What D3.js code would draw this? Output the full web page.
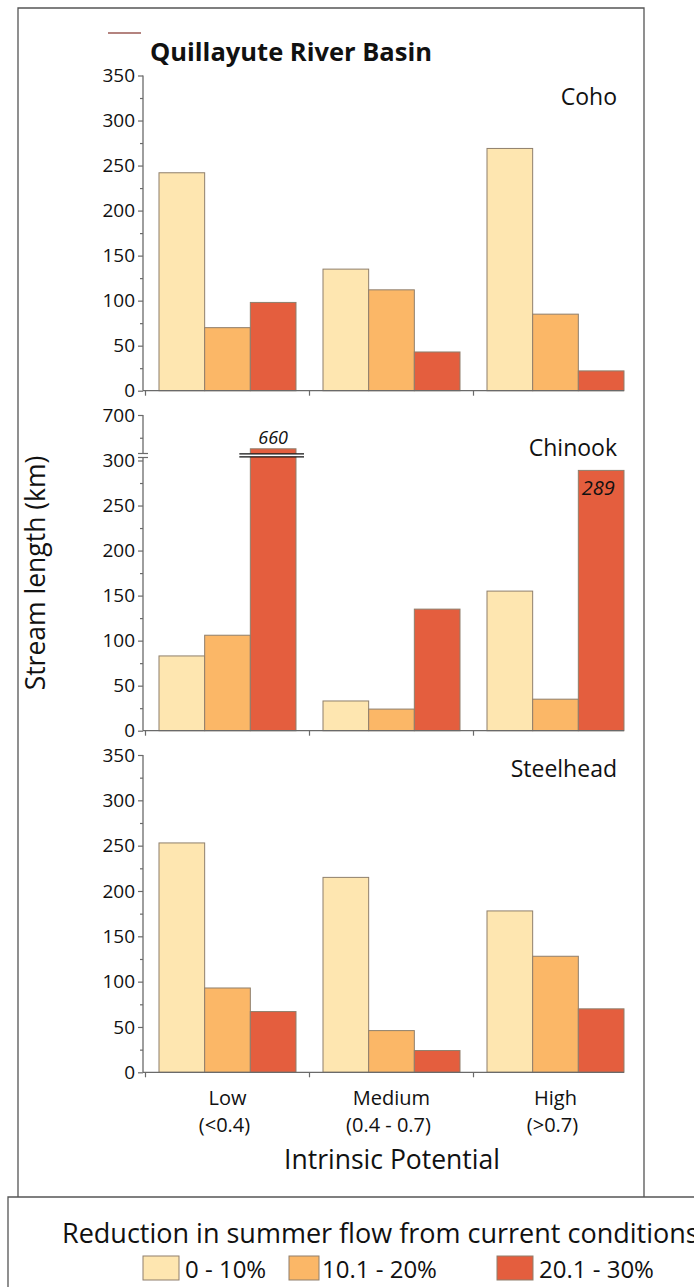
<!DOCTYPE html>
<html><head><meta charset="utf-8">
<script src="https://cdn.jsdelivr.net/npm/d3@7"></script>
<style>
body{margin:0;background:#fff}
svg{display:block}
text{font-family:"Open Sans",sans-serif;fill:#111}
</style>
</head><body>
<svg id="chart" width="694" height="1287"></svg>
<script>
// ---------- data ----------
const groups = ["Low", "Medium", "High"];
const groupSub = ["(<0.4)", "(0.4 -  0.7)", "(>0.7)"];
const series = ["0 - 10%", "10.1 - 20%", "20.1 - 30%"];
const colors = ["#FEE6B0", "#FBB767", "#E45E3E"];
const cohoValues = [[242, 70, 98], [135, 112, 43], [269, 85, 22]];
const chinookValues = [[83, 106, 660], [33, 24, 135], [155, 35, 289]];
const steelheadValues = [[253, 93, 67], [215, 46, 24], [178, 128, 70]];
const yTicks350 = [0, 50, 100, 150, 200, 250, 300, 350];
const yMinor350 = [25, 75, 125, 175, 225, 275, 325];
const chinookLowerTicks = [0, 50, 100, 150, 200, 250, 300];
const chinookLowerMinor = [25, 75, 125, 175, 225, 275];
const chinookUpperTicks = [700];
const chinookUpperMinor = [500];
const chinookBreakCap = 313;      // displayed height of the broken bar
const chinookLabels = [{g: 0, s: 2, text: "660", where: "above"}, {g: 2, s: 2, text: "289", where: "inside"}];

const svg = d3.select("#chart");
const axisX = 143;
const axisColor = "#6a6a6a";
const barStroke = "#8f7f6c";

// frame
svg.append("path").attr("d", "M18,1197 V8 H644 V1197").attr("fill", "none").attr("stroke", "#555").attr("stroke-width", 1.3);
svg.append("line").attr("x1", 108).attr("x2", 141).attr("y1", 33).attr("y2", 33).attr("stroke", "#9b5a55").attr("stroke-width", 1.4);
svg.append("text").attr("x", 150).attr("y", 61).attr("font-size", 25.5).attr("font-weight", 700).text("Quillayute River Basin");

// x scales
const x0 = d3.scaleBand().domain(groups).range([145.5, 637.5]).paddingInner(0.1646).paddingOuter(0.0823);
const x1 = d3.scaleBand().domain(series).range([0, x0.bandwidth()]);
const step = x0.step();
const boundaryTicks = groups.map(g => x0(g) - step * x0.paddingInner() / 2);
const axisEnd = x0(groups[groups.length - 1]) + x0.bandwidth();

function styleAxis(g) {
  g.selectAll("path").remove();
  g.selectAll("line").attr("stroke", axisColor).attr("stroke-width", 1.2);
  g.selectAll("text").attr("font-size", 19).attr("fill", "#1a1a1a").attr("font-family", '"Open Sans",sans-serif');
}

function drawPanel(values, name, y, yMajor, yMinor, nameY, cap) {
  const g = svg.append("g");
  const zeroY = y(0);
  groups.forEach((grp, gi) => {
    series.forEach((s, si) => {
      const v = cap ? Math.min(values[gi][si], cap) : values[gi][si];
      g.append("rect")
        .attr("x", x0(grp) + x1(s)).attr("width", x1.bandwidth())
        .attr("y", y(v)).attr("height", zeroY - y(v))
        .attr("fill", colors[si]).attr("stroke", barStroke).attr("stroke-width", 1);
    });
  });
  const ax = g.append("g").attr("transform", `translate(${axisX},0)`);
  ax.append("g").call(d3.axisLeft(y).tickValues(yMajor).tickSize(5).tickPadding(3)).call(styleAxis);
  ax.append("g").call(d3.axisLeft(y).tickValues(yMinor).tickSize(3).tickFormat("")).call(styleAxis);
  g.append("line").attr("x1", axisX).attr("x2", axisEnd).attr("y1", zeroY).attr("y2", zeroY).attr("stroke", axisColor).attr("stroke-width", 1.3);
  boundaryTicks.forEach(t => g.append("line").attr("x1", t).attr("x2", t).attr("y1", zeroY).attr("y2", zeroY + 5).attr("stroke", axisColor).attr("stroke-width", 1.2));
  g.append("text").attr("x", 617).attr("y", nameY).attr("text-anchor", "end").attr("font-size", 23).text(name);
  return g;
}

// Coho
const yCoho = d3.scaleLinear().domain([0, 350]).range([390.7, 75.5]);
const pc = drawPanel(cohoValues, "Coho", yCoho, yTicks350, yMinor350, 105);
pc.append("line").attr("x1", axisX).attr("x2", axisX).attr("y1", yCoho(0)).attr("y2", yCoho(350)).attr("stroke", axisColor).attr("stroke-width", 1.3);

// Chinook (broken axis)
const yChL = d3.scaleLinear().domain([0, 300]).range([730.7, 460.5]);
const yChU = d3.scaleLinear().domain([300, 700]).range([460.5, 415]);
const pch = drawPanel(chinookValues, "Chinook", yChL, chinookLowerTicks, chinookLowerMinor, 456, chinookBreakCap);
const axU = pch.append("g").attr("transform", `translate(${axisX},0)`);
axU.append("g").call(d3.axisLeft(yChU).tickValues(chinookUpperTicks).tickSize(5).tickPadding(3)).call(styleAxis);
axU.append("g").call(d3.axisLeft(yChU).tickValues(chinookUpperMinor).tickSize(3).tickFormat("")).call(styleAxis);
pch.append("line").attr("x1", axisX).attr("x2", axisX).attr("y1", yChL(0)).attr("y2", yChL(300) - 3).attr("stroke", axisColor).attr("stroke-width", 1.3);
pch.append("line").attr("x1", axisX).attr("x2", axisX).attr("y1", yChL(300) - 7).attr("y2", yChU(700)).attr("stroke", axisColor).attr("stroke-width", 1.3);
[yChL(300) - 7, yChL(300) - 3].forEach(yy => pch.append("line").attr("x1", axisX - 5).attr("x2", axisX + 5).attr("y1", yy).attr("y2", yy).attr("stroke", axisColor).attr("stroke-width", 1.2));
chinookLabels.forEach(l => {
  const bx = x0(groups[l.g]) + x1(series[l.s]);
  const bw = x1.bandwidth();
  if (l.where === "above") {
    const by = yChL(chinookBreakCap);
    pch.append("rect").attr("x", bx - 11).attr("y", by + 5).attr("width", bw + 22).attr("height", 3).attr("fill", "#fff");
    [by + 5, by + 8].forEach(yy => pch.append("line").attr("x1", bx - 11).attr("x2", bx + bw + 8).attr("y1", yy).attr("y2", yy).attr("stroke", "#111").attr("stroke-width", 1.3));
    pch.append("text").attr("x", bx + bw / 2).attr("y", by - 5).attr("text-anchor", "middle").attr("font-size", 18).attr("font-style", "italic").text(l.text);
  } else {
    const v = chinookValues[l.g][l.s];
    pch.append("text").attr("x", bx + bw / 2 - 3).attr("y", yChL(v) + 25).attr("text-anchor", "middle").attr("font-size", 20).attr("font-style", "italic").attr("fill", "#2a0d05").text(l.text);
  }
});

// Steelhead
const ySt = d3.scaleLinear().domain([0, 350]).range([1072.3, 755]);
const ps = drawPanel(steelheadValues, "Steelhead", ySt, yTicks350, yMinor350, 777);
ps.append("line").attr("x1", axisX).attr("x2", axisX).attr("y1", ySt(0)).attr("y2", ySt(350)).attr("stroke", axisColor).attr("stroke-width", 1.3);

// y title
svg.append("text").attr("transform", "translate(45,573) rotate(-90)").attr("text-anchor", "middle").attr("font-size", 26.5).text("Stream length (km)");

// x labels
groups.forEach((g, i) => {
  const cx = x0(g) + x0.bandwidth() / 2;
  svg.append("text").attr("x", cx).attr("y", 1105).attr("text-anchor", "middle").attr("font-size", 20).text(g);
  svg.append("text").attr("x", cx - 3).attr("y", 1132).attr("text-anchor", "middle").attr("font-size", 20).text(groupSub[i]);
});
svg.append("text").attr("x", 392).attr("y", 1169).attr("text-anchor", "middle").attr("font-size", 26.5).text("Intrinsic Potential");

// legend box
svg.append("path").attr("d", "M8,1287 V1197 H694").attr("fill", "none").attr("stroke", "#555").attr("stroke-width", 1.3);
svg.append("text").attr("x", 62).attr("y", 1243).attr("font-size", 27).text("Reduction in summer flow from current conditions");
const legendX = [143, 289, 497];
series.forEach((s, i) => {
  svg.append("rect").attr("x", legendX[i]).attr("y", 1256).attr("width", i === 1 ? 30 : 36).attr("height", 24)
    .attr("fill", colors[i]).attr("stroke", barStroke).attr("stroke-width", 1);
  svg.append("text").attr("x", legendX[i] + (i === 1 ? 33 : 42)).attr("y", 1278).attr("font-size", 24).text(s);
});
</script>
</body></html>
